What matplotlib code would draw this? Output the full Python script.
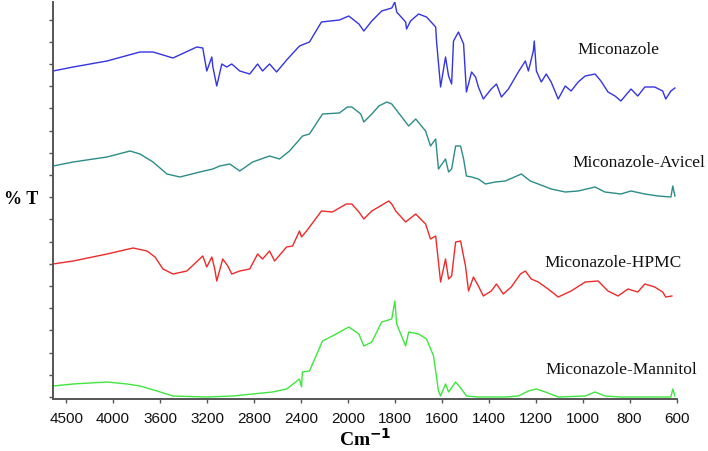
import numpy as np
import matplotlib
matplotlib.use("Agg")
import matplotlib.pyplot as plt
from matplotlib.ticker import FixedLocator, FixedFormatter, NullFormatter

# ---- axis ticks (FTIR scale: 500/400 steps above 2000, 200 steps below) ----
tick_wn = [4500, 4000, 3600, 3200, 2800, 2400, 2000, 1800, 1600, 1400, 1200, 1000, 800, 600]
tick_labels = [str(t) for t in tick_wn]

# ---- series data (wavenumber cm-1, transmittance arbitrary units) ----
mic_wn = [4640, 4425, 4065, 3771, 3660, 3490, 3287, 3236, 3202, 3159, 3150, 3117, 3074, 3032,
          2989, 2921, 2836, 2769, 2727, 2667, 2607, 2514, 2412, 2327, 2225, 2072, 1996, 1953,
          1932, 1898, 1856, 1813, 1800, 1792, 1754, 1750, 1733, 1699, 1665, 1626, 1622, 1605,
          1584, 1571, 1558, 1550, 1529, 1507, 1495, 1473, 1456, 1444, 1423, 1389, 1367, 1346,
          1316, 1274, 1244, 1231, 1210, 1206, 1197, 1176, 1155, 1134, 1104, 1074, 1049, 1019,
          989, 947, 922, 892, 862, 837, 794, 765, 735, 693, 659, 646, 624, 607]
mic_t = [326, 330, 336, 345, 345, 339, 350, 349, 326, 340, 330, 311, 333, 330,
         333, 326, 323, 333, 326, 333, 325, 338, 351, 355, 375, 377, 381, 373,
         366, 376, 386, 389, 395, 385, 375, 368, 376, 383, 380, 370, 355, 310,
         340, 321, 313, 356, 365, 353, 305, 325, 320, 310, 298, 308, 313, 300,
         308, 325, 336, 326, 346, 356, 326, 315, 323, 315, 298, 311, 306, 315,
         321, 323, 316, 305, 301, 296, 308, 301, 310, 310, 306, 298, 306, 309]

avi_wn = [4640, 4425, 4065, 3856, 3771, 3660, 3541, 3431, 3261, 3151, 3092, 3006, 2921, 2811,
          2667, 2582, 2497, 2386, 2327, 2216, 2072, 2004, 1983, 1945, 1932, 1898, 1868, 1834,
          1813, 1754, 1741, 1711, 1669, 1648, 1626, 1614, 1584, 1571, 1558, 1541, 1520, 1507,
          1495, 1473, 1444, 1414, 1372, 1329, 1261, 1223, 1189, 1134, 1074, 1019, 947, 905,
          837, 794, 735, 679, 624, 616, 607]
avi_t = [231, 235, 240, 246, 243, 235, 223, 220, 225, 228, 231, 233, 226, 235,
         241, 238, 246, 261, 263, 283, 284, 290, 290, 283, 275, 283, 291, 295,
         293, 275, 271, 278, 266, 251, 258, 228, 238, 225, 228, 251, 251, 238,
         221, 220, 218, 213, 215, 216, 223, 216, 213, 208, 205, 206, 210, 205,
         203, 206, 203, 201, 200, 211, 201]

hpmc_wn = [4640, 4425, 4065, 3830, 3711, 3643, 3575, 3490, 3372, 3236, 3202, 3159, 3134, 3117,
           3066, 3023, 2989, 2921, 2836, 2769, 2727, 2667, 2624, 2522, 2471, 2412, 2395, 2352,
           2225, 2132, 2013, 1983, 1953, 1932, 1898, 1826, 1813, 1796, 1754, 1711, 1669, 1648,
           1626, 1605, 1584, 1571, 1558, 1541, 1520, 1499, 1486, 1465, 1444, 1423, 1389, 1367,
           1338, 1304, 1265, 1244, 1219, 1189, 1147, 1104, 1049, 989, 934, 892, 849, 807,
           765, 735, 693, 659, 646, 620]
hpmc_t = [133, 136, 143, 149, 146, 140, 128, 123, 126, 141, 130, 140, 128, 116,
          138, 131, 123, 126, 128, 143, 138, 146, 136, 150, 151, 166, 160, 166,
          186, 185, 193, 193, 185, 178, 186, 196, 193, 186, 175, 183, 173, 158,
          161, 115, 138, 118, 121, 155, 156, 131, 106, 120, 111, 101, 106, 113,
          103, 110, 123, 126, 118, 115, 108, 100, 106, 115, 116, 106, 101, 108,
          105, 113, 110, 105, 100, 101]

man_wn = [4640, 4425, 4065, 3881, 3771, 3626, 3490, 3202, 2981, 2641, 2522, 2412, 2395, 2387,
          2327, 2216, 2132, 1996, 1953, 1932, 1898, 1856, 1813, 1800, 1792, 1754, 1741, 1699,
          1665, 1635, 1614, 1605, 1584, 1571, 1541, 1516, 1495, 1444, 1329, 1274, 1231, 1197,
          1159, 1104, 989, 947, 905, 837, 624, 616, 607]
man_t = [11, 13, 15, 13, 11, 6, 1, 0, 1, 5, 8, 18, 10, 25,
         26, 56, 61, 70, 63, 51, 55, 75, 78, 96, 73, 51, 65, 63,
         58, 41, 6, 1, 13, 5, 15, 8, 1, 0, 0, 1, 6, 8,
         5, 0, 1, 5, 1, 0, 0, 8, 1]

series = [
    ("Miconazole", mic_wn, mic_t, "#3434e0"),
    ("Miconazole-Avicel", avi_wn, avi_t, "#2c8c88"),
    ("Miconazole-HPMC", hpmc_wn, hpmc_t, "#ee2a2a"),
    ("Miconazole-Mannitol", man_wn, man_t, "#3ee63e"),
]

# ---- piecewise-linear wavenumber scale (monotonically increasing in wn) ----
_tw = np.array(tick_wn, float)
_ti = np.arange(len(_tw), dtype=float)

def _index(w):
    w = np.asarray(w, float)
    out = np.interp(-w, -_tw, _ti)
    out = np.where(w > _tw[0], (_tw[0] - w) / (_tw[0] - _tw[1]), out)
    out = np.where(w < _tw[-1], _ti[-1] + (_tw[-1] - w) / (_tw[-2] - _tw[-1]), out)
    return out

def fwd(w):
    return -_index(w)

def inv(v):
    i = -np.asarray(v, float)
    out = np.interp(i, _ti, _tw)
    out = np.where(i < 0, _tw[0] - i * (_tw[0] - _tw[1]), out)
    out = np.where(i > _ti[-1], _tw[-1] - (i - _ti[-1]) * (_tw[-2] - _tw[-1]), out)
    return out

W, H = 708, 452
fig = plt.figure(figsize=(W / 100, H / 100), dpi=100)
ax = fig.add_axes([53 / W, (H - 400) / H, (677 - 53) / W, (400 - 3) / H])

ax.set_xscale("function", functions=(fwd, inv))
for name, xw, yt, col in series:
    ax.plot(xw, yt, color=col, lw=1.0)

ax.set_xlim(598, 4640)
ax.invert_xaxis()
ax.set_ylim(-2, 395)

ax.xaxis.set_major_locator(FixedLocator(tick_wn))
ax.xaxis.set_major_formatter(FixedFormatter(tick_labels))
ax.xaxis.set_minor_locator(FixedLocator([]))
ax.yaxis.set_major_locator(FixedLocator(np.arange(0, 396, 22.2)))
ax.yaxis.set_major_formatter(NullFormatter())
ax.yaxis.set_minor_locator(FixedLocator([]))

for s in ["top", "right"]:
    ax.spines[s].set_visible(False)
for s in ["left", "bottom"]:
    ax.spines[s].set_color("#555555")
    ax.spines[s].set_linewidth(1.4)
ax.tick_params(axis="both", direction="out", length=3, width=1, color="#555555")
ax.tick_params(axis="x", pad=6, labelsize=11)
for lab in ax.get_xticklabels():
    lab.set_family(["Liberation Sans", "DejaVu Sans"])
    lab.set_color("#111111")

serif = ["Liberation Serif", "DejaVu Serif"]
fig.text(4 / W, 1 - 200 / H, "% T", family=serif, fontweight="bold", fontsize=13,
         ha="left", va="center")
fig.text(365 / W, 1 - 439 / H, r"Cm$^{\mathbf{-1}}$", family=serif, fontweight="bold",
         fontsize=14, ha="center", va="center")

label_pos = [(577, 50), (572, 163), (544, 263), (545, 370)]
for (name, _, _, _), (px, py) in zip(series, label_pos):
    fig.text(px / W, 1 - py / H, name, family=serif, fontsize=12.5, ha="left", va="center",
             color="#111111")

fig.savefig("out.png", dpi=100)
